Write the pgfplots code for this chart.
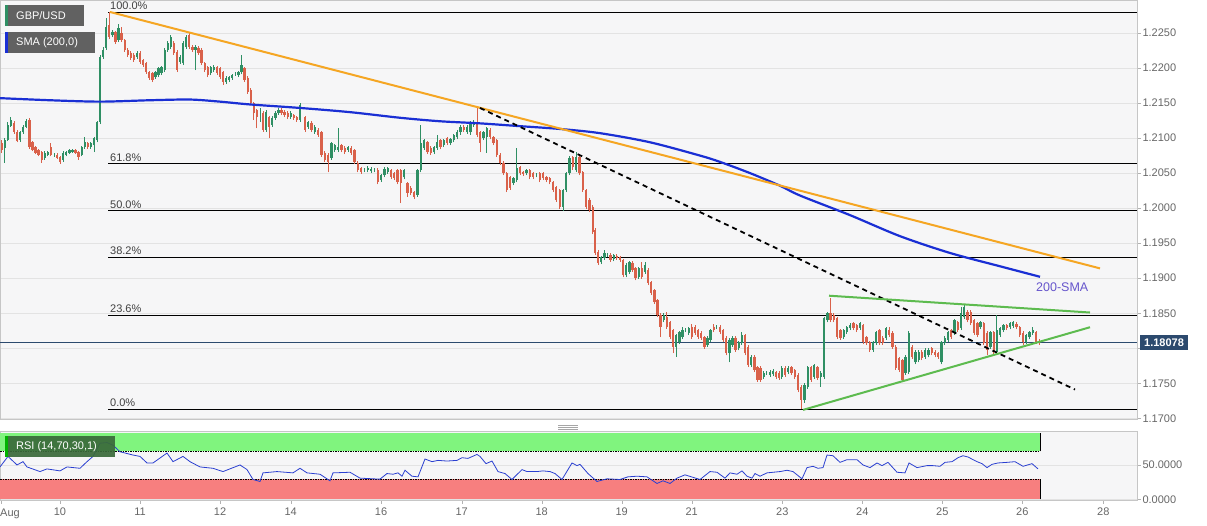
\documentclass[border=0pt]{standalone}
\usepackage{fontspec}
\setmainfont{Liberation Sans}
\usepackage{pgfplots}
\usepackage{pgfplotstable}
\pgfplotsset{compat=1.18}
\definecolor{upc}{HTML}{2F8F64}
\definecolor{dnc}{HTML}{D9614A}
\definecolor{smac}{HTML}{1A2FD4}
\definecolor{orangec}{HTML}{F5A623}
\definecolor{trig}{HTML}{5DBB4F}
\definecolor{pricec}{HTML}{2C4A6E}
\definecolor{bgc}{HTML}{F6F6F7}
\definecolor{rsig}{HTML}{80F47E}
\definecolor{rsir}{HTML}{F77F7F}
\definecolor{rsil}{HTML}{2A3FD0}
\definecolor{tickc}{HTML}{666666}
\definecolor{boxg}{HTML}{616161}
\definecolor{rsibox}{HTML}{3A6A3A}
\definecolor{smalab}{HTML}{6655CC}

\pgfplotstableread{
x o h l c
1.7 1.2093 1.2097 1.2079 1.2083
4.8 1.2086 1.2100 1.2065 1.2097
7.9 1.2097 1.2123 1.2096 1.2119
10.9 1.2117 1.2130 1.2116 1.2126
14.0 1.2122 1.2124 1.2106 1.2108
17.1 1.2109 1.2111 1.2094 1.2096
20.2 1.2097 1.2110 1.2095 1.2108
23.2 1.2108 1.2118 1.2106 1.2116
26.3 1.2116 1.2127 1.2114 1.2125
29.4 1.2126 1.2129 1.2085 1.2087
32.5 1.2094 1.2096 1.2081 1.2083
35.5 1.2087 1.2089 1.2077 1.2079
38.6 1.2083 1.2085 1.2074 1.2076
41.7 1.2080 1.2082 1.2065 1.2069
44.8 1.2072 1.2081 1.2069 1.2079
47.8 1.2076 1.2082 1.2074 1.2080
50.9 1.2087 1.2093 1.2074 1.2076
54.0 1.2076 1.2079 1.2073 1.2076
57.1 1.2076 1.2078 1.2070 1.2072
60.1 1.2073 1.2075 1.2063 1.2066
63.2 1.2069 1.2081 1.2066 1.2079
66.3 1.2076 1.2082 1.2074 1.2080
69.4 1.2079 1.2085 1.2077 1.2083
72.4 1.2080 1.2085 1.2079 1.2083
75.5 1.2083 1.2085 1.2077 1.2079
78.6 1.2080 1.2082 1.2069 1.2073
81.7 1.2076 1.2089 1.2074 1.2087
84.7 1.2087 1.2101 1.2085 1.2094
87.8 1.2093 1.2095 1.2085 1.2087
90.9 1.2087 1.2095 1.2085 1.2093
94.0 1.2090 1.2102 1.2080 1.2100
97.0 1.2097 1.2125 1.2094 1.2123
100.1 1.2123 1.2219 1.2120 1.2216
103.2 1.2216 1.2230 1.2213 1.2226
106.3 1.2229 1.2271 1.2226 1.2259
109.3 1.2261 1.2280 1.2241 1.2244
112.4 1.2247 1.2254 1.2244 1.2251
115.5 1.2251 1.2253 1.2234 1.2237
118.6 1.2240 1.2263 1.2237 1.2257
121.6 1.2250 1.2259 1.2237 1.2240
124.7 1.2240 1.2242 1.2223 1.2226
127.8 1.2226 1.2228 1.2216 1.2219
130.9 1.2222 1.2225 1.2212 1.2214
133.9 1.2219 1.2221 1.2209 1.2211
137.0 1.2216 1.2225 1.2213 1.2222
140.1 1.2222 1.2225 1.2206 1.2209
143.2 1.2211 1.2213 1.2202 1.2204
146.2 1.2207 1.2209 1.2192 1.2194
149.3 1.2194 1.2196 1.2183 1.2186
152.4 1.2193 1.2195 1.2180 1.2183
155.5 1.2187 1.2196 1.2185 1.2194
158.5 1.2190 1.2202 1.2187 1.2200
161.6 1.2193 1.2203 1.2190 1.2201
164.7 1.2197 1.2228 1.2194 1.2226
167.8 1.2226 1.2238 1.2223 1.2236
170.8 1.2230 1.2247 1.2227 1.2244
173.9 1.2236 1.2239 1.2219 1.2222
177.0 1.2223 1.2226 1.2194 1.2197
180.1 1.2209 1.2219 1.2206 1.2216
183.1 1.2207 1.2238 1.2204 1.2236
186.2 1.2230 1.2247 1.2227 1.2244
189.3 1.2247 1.2250 1.2227 1.2230
192.4 1.2230 1.2233 1.2223 1.2226
195.4 1.2226 1.2233 1.2197 1.2230
198.5 1.2229 1.2231 1.2219 1.2222
201.6 1.2226 1.2228 1.2204 1.2207
204.7 1.2207 1.2209 1.2194 1.2197
207.7 1.2201 1.2203 1.2187 1.2190
210.8 1.2193 1.2203 1.2190 1.2201
213.9 1.2197 1.2204 1.2194 1.2201
217.0 1.2201 1.2203 1.2190 1.2193
220.0 1.2200 1.2202 1.2184 1.2187
223.1 1.2194 1.2196 1.2176 1.2180
226.2 1.2180 1.2188 1.2177 1.2186
229.3 1.2183 1.2189 1.2180 1.2187
232.3 1.2186 1.2192 1.2183 1.2190
235.4 1.2191 1.2194 1.2189 1.2191
238.5 1.2190 1.2196 1.2187 1.2194
241.6 1.2194 1.2219 1.2191 1.2204
244.6 1.2200 1.2202 1.2180 1.2183
247.7 1.2186 1.2188 1.2163 1.2166
250.8 1.2169 1.2171 1.2147 1.2150
253.9 1.2150 1.2152 1.2126 1.2136
256.9 1.2140 1.2142 1.2114 1.2130
260.0 1.2130 1.2143 1.2123 1.2130
263.1 1.2136 1.2138 1.2109 1.2112
266.2 1.2112 1.2140 1.2109 1.2137
269.2 1.2130 1.2132 1.2100 1.2116
272.3 1.2119 1.2131 1.2116 1.2129
275.4 1.2129 1.2138 1.2126 1.2136
278.5 1.2136 1.2143 1.2133 1.2140
281.5 1.2140 1.2143 1.2133 1.2136
284.6 1.2137 1.2140 1.2130 1.2133
287.7 1.2136 1.2138 1.2127 1.2130
290.8 1.2130 1.2138 1.2127 1.2136
293.8 1.2133 1.2135 1.2126 1.2129
296.9 1.2130 1.2132 1.2123 1.2126
300.0 1.2126 1.2150 1.2123 1.2147
305.0 1.2130 1.2132 1.2109 1.2112
308.3 1.2116 1.2125 1.2113 1.2123
311.6 1.2122 1.2124 1.2109 1.2112
314.9 1.2109 1.2118 1.2106 1.2116
318.2 1.2112 1.2114 1.2102 1.2104
321.5 1.2108 1.2110 1.2073 1.2076
324.8 1.2079 1.2081 1.2066 1.2069
328.1 1.2076 1.2078 1.2051 1.2066
331.5 1.2072 1.2095 1.2069 1.2093
334.8 1.2083 1.2092 1.2080 1.2090
338.1 1.2083 1.2114 1.2080 1.2087
341.4 1.2090 1.2092 1.2080 1.2083
344.7 1.2086 1.2088 1.2077 1.2080
348.0 1.2083 1.2089 1.2080 1.2087
351.3 1.2086 1.2088 1.2076 1.2079
354.6 1.2083 1.2085 1.2063 1.2066
357.9 1.2065 1.2067 1.2051 1.2054
361.2 1.2057 1.2059 1.2049 1.2051
364.5 1.2054 1.2057 1.2051 1.2054
367.8 1.2054 1.2060 1.2051 1.2057
371.1 1.2053 1.2059 1.2050 1.2056
374.4 1.2054 1.2057 1.2051 1.2054
377.8 1.2054 1.2057 1.2034 1.2037
381.1 1.2040 1.2049 1.2037 1.2047
384.4 1.2047 1.2058 1.2044 1.2056
387.7 1.2051 1.2059 1.2049 1.2057
391.0 1.2054 1.2056 1.2041 1.2044
394.3 1.2050 1.2052 1.2040 1.2043
397.6 1.2054 1.2056 1.2034 1.2037
400.9 1.2054 1.2056 1.2007 1.2036
404.2 1.2044 1.2056 1.2041 1.2054
407.5 1.2036 1.2038 1.2016 1.2022
410.8 1.2029 1.2031 1.2019 1.2022
414.1 1.2023 1.2025 1.2013 1.2016
417.4 1.2019 1.2056 1.2016 1.2054
420.8 1.2054 1.2119 1.2051 1.2093
424.1 1.2086 1.2099 1.2083 1.2097
427.4 1.2094 1.2096 1.2077 1.2080
430.7 1.2086 1.2088 1.2076 1.2079
434.0 1.2080 1.2089 1.2077 1.2087
437.3 1.2086 1.2104 1.2083 1.2094
440.6 1.2097 1.2099 1.2084 1.2087
443.9 1.2090 1.2099 1.2087 1.2097
447.2 1.2100 1.2102 1.2090 1.2093
450.5 1.2093 1.2100 1.2090 1.2098
453.8 1.2097 1.2106 1.2094 1.2104
457.1 1.2101 1.2111 1.2098 1.2109
460.4 1.2108 1.2118 1.2105 1.2116
463.7 1.2116 1.2118 1.2109 1.2112
467.1 1.2109 1.2118 1.2106 1.2116
470.4 1.2108 1.2125 1.2105 1.2123
473.7 1.2119 1.2126 1.2116 1.2123
477.0 1.2123 1.2143 1.2101 1.2104
480.3 1.2108 1.2110 1.2080 1.2093
483.6 1.2100 1.2110 1.2097 1.2108
486.9 1.2101 1.2116 1.2079 1.2114
490.2 1.2112 1.2114 1.2098 1.2101
493.5 1.2101 1.2103 1.2090 1.2093
496.8 1.2097 1.2099 1.2073 1.2076
500.1 1.2076 1.2078 1.2062 1.2065
503.4 1.2065 1.2067 1.2047 1.2050
506.7 1.2050 1.2052 1.2023 1.2026
510.0 1.2044 1.2046 1.2026 1.2029
513.4 1.2036 1.2045 1.2033 1.2043
516.7 1.2040 1.2086 1.2037 1.2057
520.0 1.2058 1.2060 1.2047 1.2050
523.3 1.2051 1.2053 1.2046 1.2049
526.6 1.2050 1.2056 1.2047 1.2054
529.9 1.2054 1.2056 1.2041 1.2044
533.2 1.2050 1.2052 1.2041 1.2044
536.5 1.2047 1.2050 1.2044 1.2047
539.8 1.2050 1.2052 1.2037 1.2040
543.1 1.2050 1.2052 1.2040 1.2043
546.4 1.2044 1.2046 1.2037 1.2040
549.7 1.2043 1.2045 1.2034 1.2037
553.0 1.2037 1.2039 1.2023 1.2026
556.3 1.2030 1.2032 1.2009 1.2012
559.7 1.2026 1.2028 1.1999 1.2002
563.0 1.2002 1.2028 1.1996 1.2026
566.3 1.2026 1.2052 1.2023 1.2050
569.6 1.2050 1.2074 1.2047 1.2072
572.9 1.2073 1.2075 1.2055 1.2058
576.2 1.2054 1.2080 1.2051 1.2073
579.5 1.2073 1.2075 1.2047 1.2050
582.8 1.2051 1.2053 1.2023 1.2026
586.1 1.2026 1.2028 1.1999 1.2002
589.4 1.2012 1.2014 1.1994 1.1997
592.7 1.2002 1.2004 1.1963 1.1966
595.0 1.1969 1.1971 1.1933 1.1936
598.1 1.1937 1.1940 1.1919 1.1922
601.2 1.1923 1.1932 1.1920 1.1930
604.4 1.1929 1.1940 1.1926 1.1936
607.5 1.1933 1.1936 1.1930 1.1933
610.6 1.1933 1.1936 1.1923 1.1926
613.7 1.1927 1.1935 1.1924 1.1933
616.9 1.1932 1.1934 1.1926 1.1929
620.0 1.1930 1.1932 1.1923 1.1926
623.1 1.1926 1.1928 1.1901 1.1904
626.2 1.1904 1.1921 1.1901 1.1919
629.4 1.1909 1.1925 1.1906 1.1923
632.5 1.1922 1.1924 1.1909 1.1912
635.6 1.1914 1.1916 1.1897 1.1900
638.7 1.1902 1.1916 1.1899 1.1914
641.9 1.1914 1.1923 1.1899 1.1902
645.0 1.1909 1.1923 1.1906 1.1919
648.1 1.1912 1.1914 1.1890 1.1893
651.2 1.1894 1.1896 1.1876 1.1879
654.4 1.1883 1.1885 1.1863 1.1866
657.5 1.1869 1.1871 1.1845 1.1848
660.6 1.1848 1.1850 1.1816 1.1831
663.7 1.1840 1.1850 1.1837 1.1848
666.9 1.1845 1.1852 1.1828 1.1831
670.0 1.1837 1.1839 1.1813 1.1816
673.1 1.1826 1.1828 1.1793 1.1802
676.2 1.1802 1.1821 1.1788 1.1819
679.4 1.1809 1.1825 1.1806 1.1823
682.5 1.1816 1.1830 1.1813 1.1826
685.6 1.1826 1.1829 1.1823 1.1826
688.7 1.1822 1.1831 1.1819 1.1829
691.9 1.1831 1.1834 1.1813 1.1816
695.0 1.1831 1.1833 1.1819 1.1822
698.1 1.1826 1.1828 1.1813 1.1816
701.2 1.1822 1.1824 1.1812 1.1815
704.4 1.1816 1.1818 1.1799 1.1802
707.5 1.1805 1.1817 1.1802 1.1815
710.6 1.1812 1.1828 1.1809 1.1826
713.7 1.1831 1.1835 1.1823 1.1826
716.9 1.1830 1.1833 1.1827 1.1830
720.0 1.1831 1.1833 1.1820 1.1823
723.1 1.1826 1.1828 1.1809 1.1812
726.2 1.1815 1.1817 1.1790 1.1793
729.4 1.1793 1.1814 1.1780 1.1812
732.5 1.1805 1.1817 1.1802 1.1815
735.6 1.1815 1.1817 1.1795 1.1798
738.7 1.1800 1.1811 1.1797 1.1809
741.9 1.1808 1.1823 1.1805 1.1819
745.0 1.1819 1.1821 1.1790 1.1793
748.1 1.1802 1.1804 1.1773 1.1776
751.2 1.1776 1.1790 1.1773 1.1788
754.4 1.1788 1.1790 1.1766 1.1769
757.5 1.1773 1.1775 1.1752 1.1755
760.6 1.1772 1.1774 1.1752 1.1755
763.7 1.1759 1.1767 1.1756 1.1765
766.9 1.1765 1.1768 1.1762 1.1765
770.0 1.1762 1.1769 1.1759 1.1766
773.1 1.1763 1.1770 1.1760 1.1768
776.2 1.1766 1.1768 1.1756 1.1759
779.3 1.1765 1.1767 1.1755 1.1758
781.7 1.1759 1.1774 1.1756 1.1772
785.0 1.1772 1.1774 1.1759 1.1762
788.2 1.1766 1.1774 1.1763 1.1772
791.5 1.1773 1.1775 1.1762 1.1765
794.7 1.1769 1.1771 1.1756 1.1759
798.0 1.1762 1.1764 1.1737 1.1740
801.3 1.1745 1.1747 1.1713 1.1726
804.5 1.1726 1.1750 1.1722 1.1748
807.8 1.1745 1.1775 1.1742 1.1773
811.0 1.1773 1.1775 1.1752 1.1755
814.3 1.1759 1.1778 1.1756 1.1776
817.6 1.1773 1.1775 1.1755 1.1758
820.8 1.1759 1.1767 1.1745 1.1765
824.1 1.1759 1.1845 1.1756 1.1843
827.4 1.1840 1.1852 1.1837 1.1850
830.6 1.1850 1.1872 1.1837 1.1840
833.9 1.1848 1.1850 1.1837 1.1840
837.1 1.1843 1.1845 1.1813 1.1816
840.4 1.1826 1.1828 1.1812 1.1815
843.7 1.1816 1.1828 1.1813 1.1826
846.9 1.1823 1.1832 1.1820 1.1830
850.2 1.1829 1.1836 1.1826 1.1833
853.4 1.1836 1.1838 1.1826 1.1829
856.7 1.1833 1.1835 1.1823 1.1826
860.0 1.1829 1.1838 1.1826 1.1836
863.2 1.1833 1.1835 1.1806 1.1809
866.5 1.1816 1.1818 1.1805 1.1808
869.7 1.1809 1.1811 1.1795 1.1798
873.0 1.1798 1.1811 1.1795 1.1809
876.3 1.1808 1.1825 1.1805 1.1823
879.5 1.1826 1.1828 1.1805 1.1808
882.8 1.1815 1.1817 1.1805 1.1808
886.1 1.1815 1.1831 1.1812 1.1829
889.3 1.1826 1.1830 1.1816 1.1819
892.6 1.1822 1.1824 1.1799 1.1802
895.8 1.1802 1.1804 1.1769 1.1772
899.1 1.1786 1.1788 1.1766 1.1769
902.4 1.1783 1.1785 1.1752 1.1755
905.6 1.1765 1.1790 1.1762 1.1788
908.9 1.1766 1.1824 1.1763 1.1822
912.1 1.1802 1.1804 1.1785 1.1788
915.4 1.1780 1.1797 1.1777 1.1795
918.7 1.1783 1.1797 1.1780 1.1795
921.9 1.1795 1.1797 1.1783 1.1786
925.2 1.1788 1.1800 1.1785 1.1798
928.5 1.1790 1.1800 1.1787 1.1798
931.7 1.1800 1.1802 1.1790 1.1793
935.0 1.1795 1.1797 1.1787 1.1790
938.2 1.1793 1.1795 1.1785 1.1788
941.5 1.1780 1.1811 1.1777 1.1809
944.8 1.1808 1.1817 1.1805 1.1815
948.0 1.1812 1.1825 1.1809 1.1823
951.3 1.1826 1.1828 1.1813 1.1816
954.5 1.1822 1.1842 1.1819 1.1840
957.8 1.1837 1.1839 1.1823 1.1826
961.1 1.1829 1.1859 1.1826 1.1850
964.3 1.1845 1.1862 1.1842 1.1859
967.6 1.1852 1.1854 1.1837 1.1840
970.9 1.1852 1.1854 1.1833 1.1836
974.1 1.1840 1.1842 1.1819 1.1822
977.4 1.1836 1.1838 1.1816 1.1819
980.6 1.1830 1.1839 1.1827 1.1837
983.9 1.1836 1.1838 1.1805 1.1808
987.2 1.1822 1.1824 1.1790 1.1798
990.4 1.1802 1.1825 1.1799 1.1823
993.7 1.1823 1.1825 1.1792 1.1795
996.9 1.1795 1.1848 1.1792 1.1826
1000.2 1.1819 1.1831 1.1816 1.1829
1003.5 1.1826 1.1835 1.1823 1.1833
1006.7 1.1833 1.1835 1.1826 1.1829
1010.0 1.1830 1.1838 1.1827 1.1836
1013.3 1.1832 1.1839 1.1829 1.1837
1016.5 1.1834 1.1837 1.1827 1.1830
1019.8 1.1830 1.1832 1.1816 1.1819
1023.0 1.1822 1.1824 1.1805 1.1809
1026.3 1.1809 1.1821 1.1806 1.1819
1029.6 1.1816 1.1825 1.1813 1.1823
1032.8 1.1822 1.1830 1.1819 1.1826
1036.1 1.1823 1.1825 1.1806 1.1809
1039.3 1.1811 1.1813 1.1805 1.18078
}\candles

\pgfplotstableread{
x v
0 1.2157
50 1.2154
100 1.2152
150 1.2154
190 1.2155
220 1.2152
250 1.2148
300 1.2143
350 1.2137
400 1.2129
440 1.2124
480 1.2121
520 1.2117
560 1.2113
600 1.2107
650 1.2094
700 1.2075
720 1.2066
750 1.2050
780 1.2032
800 1.2018
850 1.1990
900 1.1960
950 1.1936
1000 1.1917
1040 1.1902
}\sma

\pgfplotstableread{
x v
0 47.4
8 62.8
17 50.3
23 55.1
27 47.4
40 40.6
47 44.5
60 41.6
67 47.4
80 45.4
87 55.1
93 62.8
100 82.1
107 83.1
113 79.2
120 69.6
133 64.8
140 62.8
147 53.2
153 53.2
167 67.7
173 55.1
183 62.8
190 55.1
200 47.4
213 45.4
223 40.6
240 50.3
247 43.5
253 29.0
260 26.1
263 38.7
277 40.6
293 38.7
300 45.4
307 38.7
320 36.7
330 27.1
333 38.7
350 39.6
360 31.0
380 29.5
387 37.7
393 36.7
398 38.7
402 33.8
405 42.5
412 33.8
418 32.9
425 59.0
432 55.1
438 57.0
447 56.0
457 57.0
462 60.9
468 59.9
477 65.7
480 62.8
486 52.2
492 56.0
498 40.6
505 37.7
512 29.0
522 43.5
527 40.6
537 40.6
543 41.6
550 40.6
555 37.7
562 29.0
572 53.2
577 49.3
580 51.2
588 37.7
597 26.1
607 30.0
620 29.0
628 32.9
637 33.8
647 32.9
657 23.2
663 27.1
670 23.2
677 31.0
685 35.8
700 29.0
710 40.6
717 39.6
725 31.0
730 38.7
737 36.7
742 41.6
747 33.8
752 31.0
755 37.7
760 33.8
767 38.7
780 40.6
787 42.5
793 40.6
802 30.0
807 46.4
813 48.3
818 45.4
823 46.4
827 64.8
833 63.8
840 54.1
847 58.0
857 58.0
863 50.3
870 46.4
877 53.2
882 49.3
888 54.1
897 39.6
905 38.7
909 53.2
917 46.4
927 49.3
933 49.3
940 48.3
945 54.1
952 55.1
958 60.9
963 63.8
968 61.9
977 55.1
982 52.2
987 46.4
992 51.2
998 53.2
1007 54.1
1015 55.1
1023 48.3
1032 52.2
1038 44.5
}\rsi

\begin{document}
\begin{tikzpicture}[x=1pt,y=1pt]
\useasboundingbox (0,0) rectangle (1207,526);
\begin{axis}[
  at={(0pt,106.5pt)}, anchor=south west,
  scale only axis, width=1137pt, height=419.5pt,
  xmin=0, xmax=1137, ymin=1.16983, ymax=1.22971,
  axis background/.style={fill=bgc},
  axis line style={gray!45},
  xtick=\empty,
  ytick={1.17,1.175,1.18,1.185,1.19,1.195,1.2,1.205,1.21,1.215,1.22,1.225},
  yticklabels={1.1700,1.1750,,1.1850,1.1900,1.1950,1.2000,1.2050,1.2100,1.2150,1.2200,1.2250},
  ytick pos=right, yticklabel pos=right,
  ymajorgrids, major grid style={gray!22, line width=0.7pt},
  tick align=outside, major tick length=4pt, tick style={gray!60},
  yticklabel style={font=\fontsize{11}{13}\selectfont, text=tickc, xshift=-2pt},
]
% fibonacci levels
\addplot[black, line width=0.9pt] coordinates {(108,1.2280) (1137,1.2280)};
\addplot[black, line width=0.9pt] coordinates {(108,1.20634) (1137,1.20634)};
\addplot[black, line width=0.9pt] coordinates {(108,1.19965) (1137,1.19965)};
\addplot[black, line width=0.9pt] coordinates {(108,1.19296) (1137,1.19296)};
\addplot[black, line width=0.9pt] coordinates {(108,1.18468) (1137,1.18468)};
\addplot[black, line width=0.9pt] coordinates {(108,1.1713) (1137,1.1713)};
% current price line
\addplot[pricec, line width=0.8pt] coordinates {(0,1.18078) (1137,1.18078)};
% candles: wicks
\addplot[upc, line width=0.9pt, quiver={u=0, v=\thisrow{h}-\thisrow{l}},
  restrict expr to domain={\thisrow{c}-\thisrow{o}}{0:1}] table[x=x, y=l] {\candles};
\addplot[dnc, line width=0.9pt, quiver={u=0, v=\thisrow{h}-\thisrow{l}},
  restrict expr to domain={\thisrow{c}-\thisrow{o}}{-1:-0.00005}] table[x=x, y=l] {\candles};
% candles: bodies
\addplot[upc, line width=2.3pt, quiver={u=0, v=\thisrow{c}-\thisrow{o}},
  restrict expr to domain={\thisrow{c}-\thisrow{o}}{0:1}] table[x=x, y=o] {\candles};
\addplot[dnc, line width=2.3pt, quiver={u=0, v=\thisrow{c}-\thisrow{o}},
  restrict expr to domain={\thisrow{c}-\thisrow{o}}{-1:-0.00005}] table[x=x, y=o] {\candles};
% SMA 200
\addplot[smac, line width=2.2pt, smooth] table[x=x, y=v] {\sma};
% trend lines
\addplot[orangec, line width=2pt] coordinates {(110,1.2280) (1100,1.1914)};
\addplot[black, line width=1.8pt, dash pattern=on 5pt off 4pt] coordinates {(480,1.2143) (1075,1.1741)};
\addplot[trig, line width=2pt] coordinates {(829,1.1875) (1090,1.1851)};
\addplot[trig, line width=2pt] coordinates {(803,1.1712) (1090,1.1830)};
\end{axis}

\begin{axis}[
  at={(0pt,26pt)}, anchor=south west,
  scale only axis, width=1137pt, height=69pt,
  xmin=0, xmax=1137, ymin=-1, ymax=100,
  axis background/.style={fill=bgc},
  axis line style={gray!45},
  ytick={0,50}, yticklabels={0.0000,50.0000},
  ytick pos=right, yticklabel pos=right,
  ymajorgrids, major grid style={gray!22, line width=0.7pt},
  xtick={1,60,140,220,290.7,381,461.7,541.7,621.7,691.7,782.3,862.3,942.3,1022.3,1103.3},
  xticklabels={,10,11,12,14,16,17,18,19,21,23,24,25,26,28},
  xtick pos=bottom,
  tick align=outside, major tick length=4pt, tick style={gray!60},
  yticklabel style={font=\fontsize{11}{13}\selectfont, text=tickc, xshift=-2pt},
  xticklabel style={font=\fontsize{11}{13}\selectfont, text=tickc},
]
\fill[rsig] (axis cs:0,70) rectangle (axis cs:1040,96.6);
\fill[rsir] (axis cs:0,0) rectangle (axis cs:1040,30);
\draw[black, line width=0.6pt, dash pattern=on 1.5pt off 1pt] (axis cs:0,70) -- (axis cs:1040,70);
\draw[black, line width=0.6pt, dash pattern=on 1.5pt off 1pt] (axis cs:0,30) -- (axis cs:1040,30);
\draw[black, line width=0.8pt] (axis cs:1040,70) -- (axis cs:1040,96.6);
\draw[black, line width=0.8pt] (axis cs:1040,0) -- (axis cs:1040,30);
\addplot[rsil, line width=0.8pt] table[x=x, y=v] {\rsi};
\end{axis}

% separator handle
\draw[gray!70, line width=0.7pt] (558,101) -- (578,101);
\draw[gray!70, line width=0.7pt] (558,99) -- (578,99);
\draw[gray!70, line width=0.7pt] (558,97) -- (578,97);

% Aug label
\node[anchor=base west, inner sep=0pt, text=tickc, font=\fontsize{11}{13}\selectfont] at (0,9.5) {Aug};

% fib labels
\node[anchor=base west, inner sep=0pt, text=black!75, font=\fontsize{11}{13}\selectfont] at (110,516.5) {100.0\%};
\node[anchor=base west, inner sep=0pt, text=black!75, font=\fontsize{11}{13}\selectfont] at (110,364.8) {61.8\%};
\node[anchor=base west, inner sep=0pt, text=black!75, font=\fontsize{11}{13}\selectfont] at (110,317.9) {50.0\%};
\node[anchor=base west, inner sep=0pt, text=black!75, font=\fontsize{11}{13}\selectfont] at (110,271.0) {38.2\%};
\node[anchor=base west, inner sep=0pt, text=black!75, font=\fontsize{11}{13}\selectfont] at (110,213.0) {23.6\%};
\node[anchor=base west, inner sep=0pt, text=black!75, font=\fontsize{11}{13}\selectfont] at (110,119.3) {0.0\%};

% 200-SMA label
\node[anchor=west, inner sep=0pt, text=smalab, font=\fontsize{12.5}{14}\selectfont] at (1036,239) {200-SMA};

% price label
\fill[pricec] (1140,176) rectangle (1188,190.5);
\node[text=white, inner sep=0pt, font=\bfseries\fontsize{11}{12}\selectfont] at (1164,183.2) {1.18078};

% legend boxes
\fill[boxg] (5,500) rectangle (84,521);
\fill[upc] (5,500) rectangle (7.5,521);
\node[anchor=west, inner sep=0pt, text=white, font=\fontsize{11}{13}\selectfont] at (16,510.5) {GBP/USD};
\fill[boxg] (5,473) rectangle (95,494);
\fill[smac] (5,473) rectangle (7.5,494);
\node[anchor=west, inner sep=0pt, text=white, font=\fontsize{11}{13}\selectfont] at (16,483.5) {SMA (200,0)};

% RSI box
\fill[rsibox, opacity=0.92] (5,69) rectangle (115,90);
\fill[green!70!black] (5,69) rectangle (7.5,90);
\node[anchor=west, inner sep=0pt, text=white, font=\fontsize{11}{13}\selectfont] at (16,79.5) {RSI (14,70,30,1)};
\end{tikzpicture}
\end{document}
